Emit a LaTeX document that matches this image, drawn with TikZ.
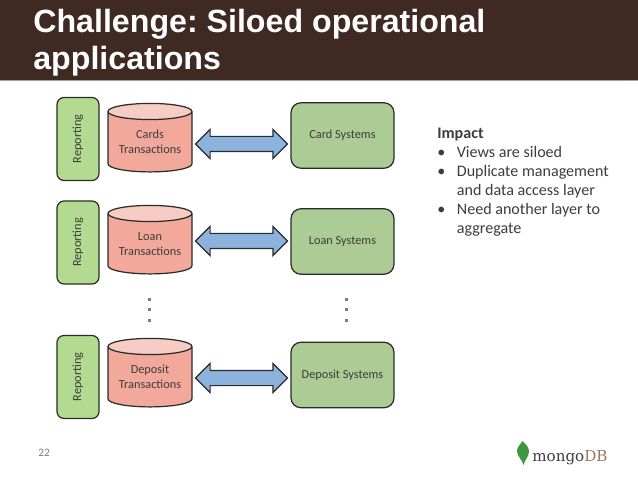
\documentclass[tikz,border=0pt]{standalone}
\usepackage{fontspec}
\setmainfont{Carlito}
\newfontfamily\titlefont{Liberation Sans}
\newfontfamily\logofont{DejaVu Serif}
\usepackage{xcolor}
\usetikzlibrary{calc,shapes.geometric,shapes.arrows}
\definecolor{band}{RGB}{62, 41, 35}
\definecolor{bandline}{RGB}{170, 158, 150}
\definecolor{sysgreen}{RGB}{173, 203, 148}
\definecolor{repgreen}{RGB}{178, 219, 145}
\definecolor{dbred}{RGB}{243, 168, 156}
\definecolor{dbtop}{RGB}{247, 204, 197}
\definecolor{linkblue}{RGB}{142, 178, 222}
\definecolor{inkline}{RGB}{40, 45, 40}
\definecolor{bodytext}{RGB}{60, 60, 60}
\definecolor{dotgray}{RGB}{125, 125, 125}
\definecolor{leafgreen}{RGB}{62, 150, 62}
\tikzset{
  reporting/.style={draw=inkline,fill=repgreen,line width=0.7pt,rounded corners=0.14cm,rotate=90,minimum width=1.66cm,minimum height=0.84cm,inner sep=0pt,font=\fontsize{7}{8.5}\selectfont,text=bodytext},
  dbcyl/.style={cylinder,shape border rotate=90,aspect=0.26,draw=inkline,line width=0.7pt,cylinder uses custom fill,cylinder body fill=dbred,cylinder end fill=dbtop,minimum width=1.68cm,minimum height=1.37cm,inner sep=0pt,align=center,font=\fontsize{7}{8.6}\selectfont,text=bodytext},
  sysbox/.style={draw=inkline,fill=sysgreen,line width=0.7pt,rounded corners=0.2cm,minimum width=2.06cm,minimum height=1.31cm,inner sep=0pt,font=\fontsize{7}{8.5}\selectfont,text=bodytext},
  linkarrow/.style={double arrow,draw=inkline,fill=linkblue,line width=0.7pt,minimum height=1.84cm,minimum width=0.56cm,double arrow head extend=0.14cm,inner sep=0.14cm},
  vdot/.style={fill=dotgray,minimum size=0.07cm,inner sep=0pt}
}
\begin{document}
\begin{tikzpicture}
\useasboundingbox (0,0) rectangle (12.76,9.58);
% title band
\fill[band] (0,7.98) rectangle (12.76,9.58);
\draw[bandline,line width=0.5pt] (0,7.97) -- (12.76,7.97);
\node[anchor=north west,inner sep=0pt,align=left,text=white,font=\titlefont\bfseries\frenchspacing\fontsize{18.3}{21.5}\selectfont] (title) at (0.66,9.41) {Challenge: Siloed operational\\applications};
% rows
\foreach \nm/\rep/\cyl/\sys/\lnk/\dbtxt/\systxt in {card/6.80/6.74/6.87/6.70/Cards\\Transactions/Card Systems,loan/4.73/4.70/4.75/4.76/Loan\\Transactions/Loan Systems,deposit/2.04/2.04/2.08/2.02/Deposit\\Transactions/Deposit Systems}{
  \node[reporting] (rep-\nm) at (1.56,\rep) {Reporting};
  \node[dbcyl] (db-\nm) at (3.0,\cyl) {\dbtxt};
  \node[sysbox] (sys-\nm) at (6.85,\sys) {\systxt};
  \path (db-\nm.east) -- (sys-\nm.west) coordinate[midway] (mid-\nm);
  \node[linkarrow] (link-\nm) at (mid-\nm |- 0,\lnk) {};
}
% dots
\foreach \x/\nm in {2.99/a,6.93/b}{
  \node[vdot] (dot1\nm) at (\x,3.59) {};
  \node[vdot] (dot2\nm) at (\x,3.39) {};
  \node[vdot] (dot3\nm) at (\x,3.17) {};
}
% impact text
\node[anchor=north west,inner sep=0pt,text=bodytext,font=\fontsize{9.15}{10.8}\selectfont] (impact) at (8.74,7.08) {%
\begin{tabular}{@{}l@{\hspace{0.23cm}}l@{}}
\multicolumn{2}{@{}l}{\bfseries Impact}\\
\textbullet & Views are siloed\\
\textbullet & Duplicate management\\
 & and data access layer\\
\textbullet & Need another layer to\\
 & aggregate
\end{tabular}};
\node[anchor=base west,inner sep=0pt,text=dotgray,font=\fontsize{6.5}{8}\selectfont] (pageno) at (0.76,0.45) {22};
% logo
\fill[leafgreen] (10.47,0.28) .. controls (10.44,0.4) and (10.34,0.45) .. (10.34,0.56) .. controls (10.34,0.65) and (10.42,0.7) .. (10.45,0.76) .. controls (10.5,0.7) and (10.58,0.65) .. (10.58,0.55) .. controls (10.58,0.45) and (10.5,0.4) .. (10.47,0.28) -- cycle;
\node[anchor=base west,inner sep=0pt,font=\logofont\fontsize{8.6}{10}\selectfont] (logo) at (10.64,0.36) {{\color{black!75}mongo}{\color{brown!60!black!75}DB}};
\end{tikzpicture}
\end{document}
